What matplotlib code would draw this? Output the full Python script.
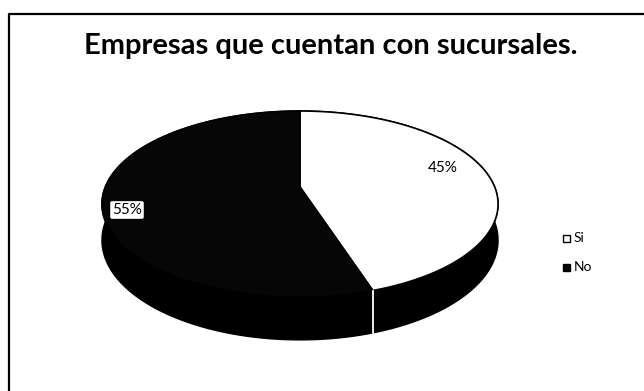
import numpy as np
import matplotlib.pyplot as plt
from matplotlib.patches import Polygon, Rectangle

plt.rcParams['font.family'] = ['Lato', 'DejaVu Sans']

categories = ['Si', 'No']
values = [45, 55]
face_colors = ['#ffffff', '#060606']

# 3D pie layout (pixel space): centre, radii, perspective, thickness
cx, cy = 300, 187
sx, sy = 194.7, 89.9
persp = 0.183
depth = 35


def project(phi, dz=0.0):
    X = np.sin(phi)
    Y = -np.cos(phi)
    w = 1 - persp * Y
    return cx + sx * X / w, cy + (sy * Y + dz) / w


fig = plt.figure(figsize=(6.44, 3.91), dpi=100)
ax = fig.add_axes([0, 0, 1, 1])
ax.set_xlim(0, 644)
ax.set_ylim(391, 0)
ax.axis('off')

# chart frame (only top and left edges fall inside the image)
ax.plot([9, 9, 644], [391, 14, 14], color='black', lw=1.6)

ax.text(331, 46, 'Empresas que cuentan con sucursales.', ha='center', va='center',
        fontsize=21, fontweight='bold')

total = float(sum(values))
bounds = np.concatenate([[0], np.cumsum(values) / total * 2 * np.pi])

# side walls first
for i in range(len(values)):
    phis = np.linspace(bounds[i], bounds[i + 1], 200)
    tx, ty = project(phis)
    bx, by = project(phis[::-1], depth)
    ax.add_patch(Polygon(np.column_stack([np.r_[tx, bx], np.r_[ty, by]]),
                         closed=True, fc='black', ec='black', lw=1))

# seam between slices on the front wall
for b in bounds[1:-1]:
    x0, y0 = project(b)
    x1, y1 = project(b, depth)
    ax.plot([x0, x1], [y0, y1], color='white', lw=1.3)

# top faces
for i in range(len(values)):
    phis = np.linspace(bounds[i], bounds[i + 1], 200)
    tx, ty = project(phis)
    pts = np.column_stack([np.r_[cx, tx], np.r_[cy, ty]])
    ax.add_patch(Polygon(pts, closed=True, fc=face_colors[i], ec='black', lw=1.2))

# percentage labels
ax.text(443, 168, f'{values[0]}%', ha='center', va='center', fontsize=11, color='black')
ax.text(127, 210, f'{values[1]}%', ha='center', va='center', fontsize=11, color='black',
        bbox=dict(boxstyle='round,pad=0.12', fc='white', ec='none'))

# legend
leg_y = [238, 267]
for name, col, ly in zip(categories, face_colors, leg_y):
    ax.add_patch(Rectangle((563, ly - 3.5), 7, 7, fc=col, ec='black', lw=1))
    ax.text(574, ly, name, ha='left', va='center', fontsize=10)

fig.savefig('out.png', dpi=100)
